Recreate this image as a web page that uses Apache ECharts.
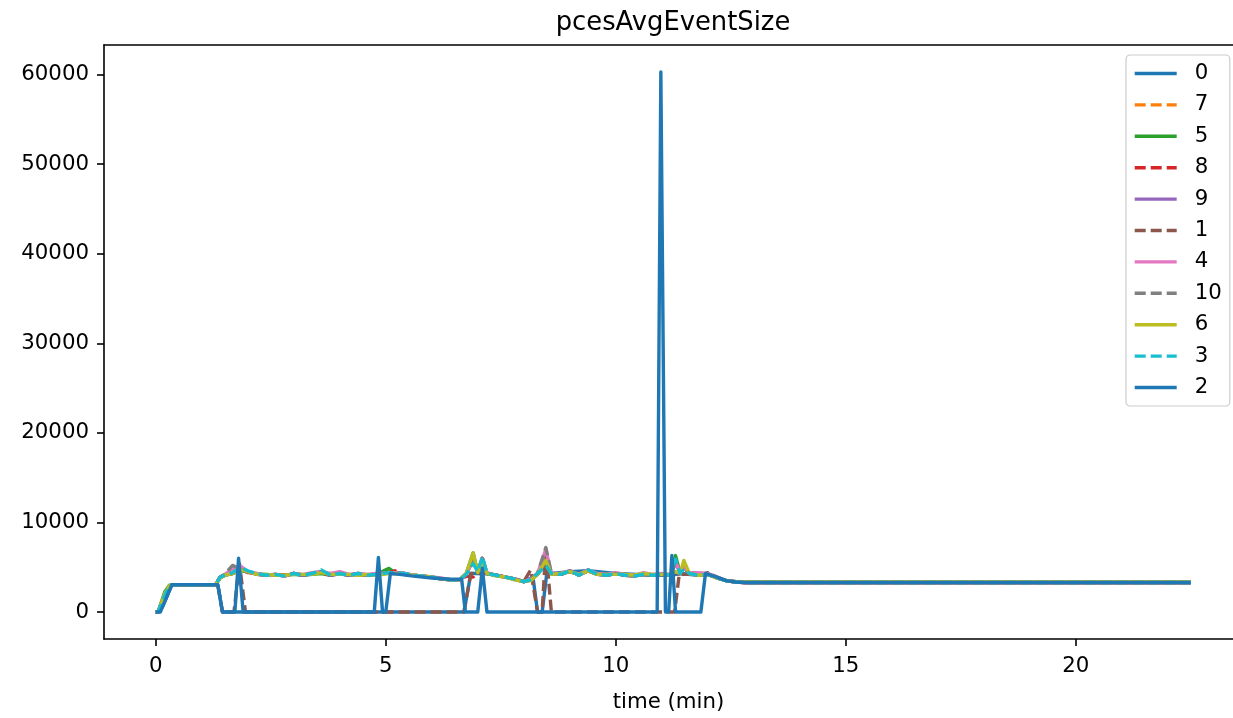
<!DOCTYPE html>
<html>
<head>
<meta charset="utf-8">
<script src="https://cdn.jsdelivr.net/npm/echarts@6/dist/echarts.min.js"></script>
<style>html,body{margin:0;padding:0;background:#fff}#c{width:1233px;height:718px}</style>
</head>
<body>
<div id="c"></div>
<script>
const titleText = "pcesAvgEventSize";
const xName = "time (min)";
const xTicks = [0, 5, 10, 15, 20];
const yTicks = [0, 10000, 20000, 30000, 40000, 50000, 60000];

// shared time grid (minutes) for the "band" nodes
const T = [0,0.05,0.2,0.3,0.4, 1.3,1.4,1.5,1.67,1.85,
  2.0,2.2,2.4,2.6,2.8,3.0,3.2,3.4,3.6,3.8,4.0,4.2,4.4,4.6,4.8,
  5.07,5.2,5.4,5.6,5.8,6.0,6.2,6.4,6.6,
  6.75,6.9,7.0,7.1,7.2,
  7.4,7.6,7.8,8.0,
  8.15,8.3,8.48,8.6,
  8.8,9.0,9.2,9.4,9.6,9.8,10.0,10.2,10.4,10.6,10.8,
  11.0,11.2,11.3,11.4,11.48,11.6,11.8,
  12.0,12.2,12.4,12.6,12.8,
  15,18,22.5];

const v7 = [0,0,2000,2900,3050, 3050,3900,4100,4400,4900,
  4500,4200,4100,4200,4000,4300,4100,4300,4500,4100,4300,4100,4300,4100,4200,
  4400,4400,4300,4100,4000,3900,3700,3600,3550,
  4200,5900,4500,6000,4300, 4100,3900,3700,3400, 3600,4300,5800,4300,
  4200,4600,4100,4600,4200,4100,4300,4100,4000,4200,4100,
  4200,4100,5700,4300,5000,4300,4100, 4200,3800,3500,3350,3300, 3300,3300,3300];
const v5 = [0,0,2300,3000,3050, 3050,3900,4100,4300,4600,
  4500,4200,4200,4100,4100,4200,4100,4200,4300,4100,4300,4100,4200,4100,4200,
  4870,4400,4200,4100,4000,3900,3700,3600,3550,
  4300,6600,4400,5700,4300, 4100,3900,3700,3400, 3600,4200,5400,4300,
  4200,4500,4200,4600,4200,4200,4200,4200,4100,4200,4100,
  4200,4100,6300,4300,5200,4300,4100, 4200,3800,3500,3350,3300, 3300,3300,3300];
const v8 = [0,0,2000,2900,3050, 3050,3800,4100,4300,4800,
  4400,4300,4100,4200,4100,4300,4100,4300,4400,4100,4400,4100,4200,4100,4300,
  4400,4600,4200,4100,4000,3900,3700,3600,3600,
  4000,3900,4600,5800,4300, 4100,3900,3700,3400, 3600,4200,5600,4300,
  4200,4500,4200,4600,4300,4100,4300,4100,4100,4200,4100,
  4200,4100,3800,4500,5000,4300,4100, 4300,3800,3500,3350,3300, 3300,3300,3300];
const v9 = [0,0,2000,2900,3050, 3050,3900,4100,4400,4900,
  4500,4200,4100,4200,4000,4300,4100,4300,4500,4100,4300,4100,4300,4100,4200,
  4400,4400,4300,4100,4000,3900,3700,3600,3550,
  4200,5800,4500,6000,4300, 4100,3900,3700,3400, 3600,4300,6000,4300,
  4200,4600,4100,4600,4200,4100,4300,4100,4000,4200,4100,
  4200,4100,5600,4300,5000,4300,4100, 4200,3800,3500,3350,3300, 3300,3300,3300];
const v4 = [0,0,1900,2900,3050, 3050,3900,4200,4800,5100,
  4500,4300,4100,4200,4000,4300,4200,4400,4500,4300,4500,4200,4300,4200,4300,
  4400,4400,4300,4100,4000,3900,3800,3600,3600,
  4300,5900,4600,6000,4400, 4100,3900,3700,3400, 3700,4300,7000,4300,
  4300,4600,4200,4700,4300,4200,4400,4200,4100,4400,4200,
  4300,4200,5600,4400,5000,4400,4400, 4300,3900,3500,3350,3300, 3300,3300,3300];
const v10 = [0,0,1900,2900,3050, 3050,3900,4200,5200,4800,
  4500,4200,4100,4200,4000,4300,4100,4300,4500,4100,4300,4100,4300,4100,4200,
  4400,4400,4300,4100,4000,3900,3700,3600,3600,
  4200,5800,4500,6000,4300, 4100,3900,3700,3400, 3700,4300,7200,4300,
  4200,4600,4100,4700,4200,4100,4300,4100,4000,4200,4100,
  4200,4100,5600,4300,5000,4300,4100, 4200,3800,3500,3350,3300, 3300,3300,3300];
const v6 = [0,0,2100,2950,3050, 3050,3800,4100,4300,4700,
  4500,4200,4200,4100,4100,4200,4200,4200,4400,4200,4200,4200,4100,4200,4100,
  4300,4300,4200,4100,4000,3900,3700,3600,3600,
  4300,6600,4400,5600,4300, 4000,3900,3600,3400, 3500,4200,5750,4200,
  4300,4500,4200,4600,4200,4200,4200,4200,4100,4300,4200,
  4200,4200,4500,4300,5750,4300,4100, 4200,3800,3500,3350,3350, 3350,3350,3350];
const v3 = [0,0,1900,2900,3050, 3050,3900,4100,4400,5000,
  4600,4300,4100,4200,4000,4300,4100,4300,4700,4100,4300,4100,4300,4100,4200,
  4400,4400,4300,4100,4000,3900,3700,3600,3550,
  4200,5400,4500,6200,4300, 4100,3900,3700,3400, 3600,4300,5200,4300,
  4200,4600,4100,4700,4200,4100,4300,4100,4000,4200,4100,
  4200,4100,5900,4300,4800,4300,4100, 4200,3800,3500,3350,3300, 3300,3300,3300];

// nodes with drop-outs: [time, value] pairs
const p0 = [[0,0],[0.05,0],[0.15,600],[0.35,3000],[1.35,3000],[1.45,0],[6.7,0],[6.85,4300],
  [7.2,4300],[7.6,3900],[8.0,3400],[8.2,3900],[8.3,0],[8.4,0],[8.5,4300],[8.6,4300],[9.0,4500],
  [9.4,4600],[10.0,4300],[10.8,4100],[11.2,4100],[11.4,4300],[11.8,4100],[12.0,4200],
  [12.4,3500],[12.8,3300],[22.5,3300]];
const p1 = [[0,0],[0.05,0],[0.2,1800],[0.35,3000],[1.35,3000],[1.45,0],[1.7,0],[1.82,5400],
  [1.95,0],[6.7,0],[6.85,4300],[7.2,4300],[7.6,3900],[8.0,3400],[8.15,4700],[8.3,0],[8.4,0],
  [8.48,7200],[8.6,0],[11.28,0],[11.38,4200],[11.6,4200],[11.9,4200],[12.0,4400],[12.2,3900],
  [12.4,3500],[12.8,3300],[22.5,3300]];
const p2 = [[0,0],[0.1,0],[0.35,3050],[1.35,3050],[1.45,0],[1.72,0],[1.8,6000],[1.9,0],
  [4.75,0],[4.84,6100],[4.93,0],[5.0,0],[5.1,4300],[5.3,4200],[5.6,4000],[6.0,3800],[6.4,3650],
  [6.65,3650],[6.73,0],[7.0,0],[7.1,4900],[7.2,0],[10.9,0],[10.98,60280],[11.08,0],[11.15,0],
  [11.22,6300],[11.3,0],[11.85,0],[11.95,4300],[12.2,3900],[12.4,3500],[12.6,3350],[12.8,3300],
  [22.5,3300]];

const seriesDefs = [
  {name:'0', color:'#1f77b4', dash:false, pts:p0},
  {name:'7', color:'#ff7f0e', dash:true, vals:v7},
  {name:'5', color:'#2ca02c', dash:false, vals:v5},
  {name:'8', color:'#d62728', dash:true, vals:v8},
  {name:'9', color:'#9467bd', dash:false, vals:v9},
  {name:'1', color:'#8c564b', dash:true, pts:p1},
  {name:'4', color:'#e377c2', dash:false, vals:v4},
  {name:'10', color:'#7f7f7f', dash:true, vals:v10},
  {name:'6', color:'#bcbd22', dash:false, vals:v6},
  {name:'3', color:'#17becf', dash:true, vals:v3},
  {name:'2', color:'#1f77b4', dash:false, pts:p2}
];

const FONT = 'DejaVu Sans';
const X_MIN = -1.125, X_MAX = 23.418;
const chart = echarts.init(document.getElementById('c'), null, {renderer:'canvas'});
chart.setOption({
  animation: false,
  backgroundColor: '#fff',
  title: {
    text: titleText, left: 668, top: 5, textAlign: 'center',
    textStyle: {fontFamily: FONT, fontSize: 25.8, fontWeight: 'normal', color: '#000'}
  },
  legend: {
    orient: 'vertical', left: 1126, top: 55,
    padding: [8, 8, 8, 7], itemGap: 10.4, itemWidth: 42, itemHeight: 14,
    backgroundColor: 'rgba(255,255,255,0.8)', borderColor: '#cccccc', borderWidth: 1.2, borderRadius: 4,
    textStyle: {fontFamily: FONT, fontSize: 21.3, color: '#000', lineHeight: 21, padding: [0,0,0,13]},
    itemStyle: {color: 'rgba(0,0,0,0)', borderColor: 'rgba(0,0,0,0)', borderWidth: 0, opacity: 0},
    lineStyle: {width: 3.4, type: 'inherit', opacity: 1},
    data: seriesDefs.map(s => s.name)
  },
  grid: {left: 104, right: 0, top: 45, bottom: 74, show: false, containLabel: false},
  xAxis: [{
    type: 'value', min: X_MIN, max: X_MAX, position: 'bottom',
    name: xName, nameLocation: 'middle', nameGap: 53,
    nameTextStyle: {fontFamily: FONT, fontSize: 21.3, color: '#000'},
    axisLine: {show: true, onZero: false, lineStyle: {color: '#000', width: 1.6}},
    axisTick: {show: true, length: 7, lineStyle: {color: '#000', width: 1.6}, customValues: xTicks},
    axisLabel: {fontFamily: FONT, fontSize: 21.3, color: '#000', margin: 17, customValues: xTicks,
      formatter: v => String(v)},
    splitLine: {show: false}
  }, {
    type: 'value', min: X_MIN, max: X_MAX, position: 'top',
    axisLine: {show: true, onZero: false, lineStyle: {color: '#000', width: 1.6}},
    axisTick: {show: false}, axisLabel: {show: false}, splitLine: {show: false}
  }],
  yAxis: {
    type: 'value', min: -3014, max: 63296,
    axisLine: {show: true, onZero: false, lineStyle: {color: '#000', width: 1.6}},
    axisTick: {show: true, length: 7, lineStyle: {color: '#000', width: 1.6}, customValues: yTicks},
    axisLabel: {fontFamily: FONT, fontSize: 21.3, color: '#000', margin: 15, customValues: yTicks,
      formatter: v => String(v)},
    splitLine: {show: false}
  },
  series: seriesDefs.map(s => ({
    name: s.name, type: 'line', symbol: 'none', showSymbol: false, xAxisIndex: 0,
    data: s.pts ? s.pts : T.map((t, i) => [t, s.vals[i]]),
    color: s.color,
    lineStyle: {color: s.color, width: 3.4, type: s.dash ? [11, 5] : 'solid', cap: 'butt', join: 'round'},
    emphasis: {disabled: true},
    clip: true
  }))
});
</script>
</body>
</html>
